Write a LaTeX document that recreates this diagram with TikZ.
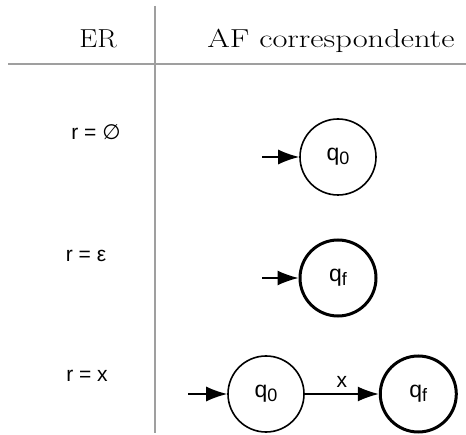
\documentclass[tikz,border=0pt]{standalone}
\usepackage{fontspec}
\setsansfont{Liberation Sans}
\newfontfamily\symfont{DejaVu Sans}
\usetikzlibrary{arrows.meta,positioning}
\newcommand{\qst}[1]{{\fontsize{23}{26}\selectfont q\raisebox{-0.3ex}{\fontsize{18}{18}\selectfont #1}}}

\begin{document}
\begin{tikzpicture}[x=1pt,y=-1pt,node distance=74pt,
  every node/.style={font=\sffamily\fontsize{21}{24}\selectfont},
  head/.style={font=\rmfamily\fontsize{26}{30}\selectfont,anchor=base},
  lbl/.style={anchor=base},
  state/.style={draw,circle,minimum size=76pt,inner sep=0pt,line width=1.6pt},
  accept/.style={state,line width=3pt},
  rule/.style={draw=gray!75,line width=2pt},
  arr/.style={-{Latex[length=21pt,width=15pt]},line width=1.5pt}]
\useasboundingbox (0,0) rectangle (466,435);
% table lines
\draw[rule] (155,6) -- (155,433);
\draw[rule] (8,64) -- (466,64);
\node[head] (er) at (98,48) {\scalebox{1.1}[1]{ER}};
\node[head] (af) at (331,48) {\scalebox{1.25}[1]{AF correspondente}};
% r = empty set
\node[lbl] (r1) at (96,140) {r = {\symfont ∅}};
\node[state] (a0) at (338,157) {\qst{0}};
\coordinate (i1) at (262,157);
\draw[arr] (i1) -- (a0);
% r = epsilon
\node[lbl] (r2) at (86,262) {r = ε};
\node[accept] (bf) at (338,278) {\qst{f}};
\coordinate (i2) at (262,278);
\draw[arr] (i2) -- (bf);
% r = x
\node[lbl] (r3) at (87,382) {r = x};
\node[state] (c0) at (266,394) {\qst{0}};
\node[accept,right=of c0] (cf) {\qst{f}};
\coordinate (i3) at (188,394);
\draw[arr] (i3) -- (c0);
\draw[arr] (c0) -- node[above=2pt] (lx) {x} (cf);
\end{tikzpicture}
\end{document}
